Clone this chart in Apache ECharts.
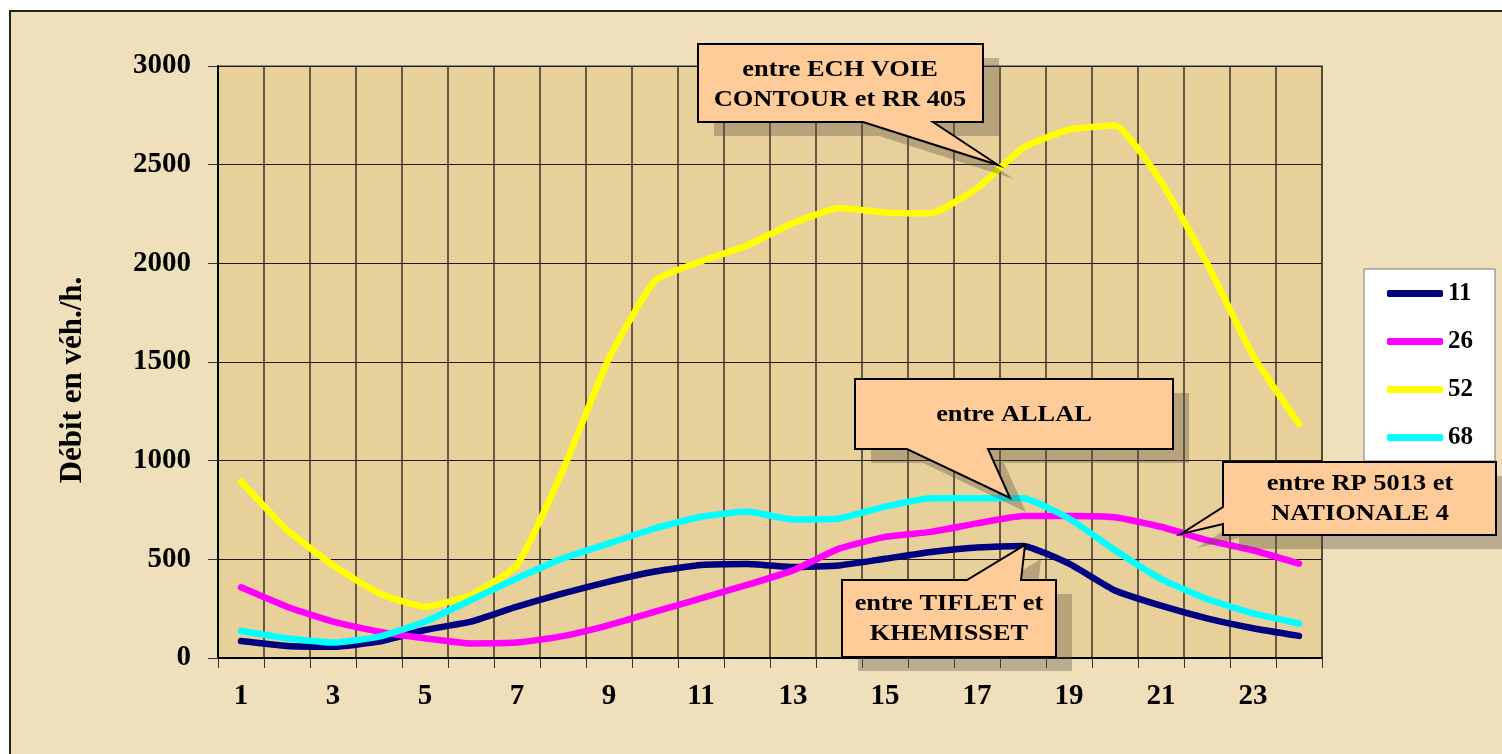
<!DOCTYPE html>
<html>
<head>
<meta charset="utf-8">
<script src="https://cdn.jsdelivr.net/npm/echarts@6/dist/echarts.min.js"></script>
<style>
  html, body { margin: 0; padding: 0; background: #ffffff; }
  #frame { position: absolute; left: 9px; top: 10px; width: 1500px; height: 750px;
           background: #efdfba; border-left: 2px solid #222; border-top: 2px solid #222; }
  #main { position: absolute; left: 0; top: 0; width: 1502px; height: 754px; }
</style>
</head>
<body>
<div id="frame"></div>
<div id="main"></div>
<script>
// heures de la journée
const hours = ['1','2','3','4','5','6','7','8','9','10','11','12','13','14','15','16','17','18','19','20','21','22','23','24'];
const yTicks = [0, 500, 1000, 1500, 2000, 2500, 3000];

// débits par poste de comptage (véh./h.)
const poste11 = [86, 61, 57, 83, 142, 184, 260, 328, 387, 438, 471, 476, 461, 469, 503, 537, 560, 568, 478, 342, 265, 201, 151, 112];
const poste26 = [358, 260, 184, 133, 100, 74, 78, 111, 167, 235, 302, 370, 444, 554, 614, 639, 682, 719, 719, 713, 665, 597, 546, 478];
const poste52 = [894, 649, 471, 328, 260, 320, 471, 953, 1519, 1912, 2010, 2090, 2203, 2280, 2258, 2254, 2381, 2585, 2678, 2698, 2415, 2000, 1534, 1186];
const poste68 = [137, 100, 78, 108, 184, 294, 404, 505, 581, 657, 716, 742, 702, 707, 767, 810, 810, 810, 707, 546, 401, 299, 226, 175];

const names = ['11', '26', '52', '68'];
const colors = ['#000080', '#ff00ff', '#ffff00', '#00ffff'];
const values = [poste11, poste26, poste52, poste68];

const serif = '"Liberation Serif", "Times New Roman", serif';

// bulle de commentaire : ombre + polygone + texte
function callout(points, lines, cx, cy) {
  const shadow = points.map(p => [p[0] + 16, p[1] + 14]);
  const els = [
    { type: 'polygon', shape: { points: shadow }, style: { fill: 'rgba(90,80,70,0.35)' }, z: 10 },
    { type: 'polygon', shape: { points: points }, style: { fill: '#ffcc99', stroke: '#000', lineWidth: 2 }, z: 11 }
  ];
  lines.forEach((t, i) => {
    els.push({
      type: 'text', x: cx, y: cy + (i - (lines.length - 1) / 2) * 30, scaleX: 1.1, z: 12,
      style: { text: t, font: 'bold 24px ' + serif, fill: '#000', textAlign: 'center', textVerticalAlign: 'middle' }
    });
  });
  return els;
}

const graphics = [].concat(
  callout([[698, 44], [983, 44], [983, 122], [933, 122], [998, 165], [863, 122], [698, 122]],
    ['entre ECH VOIE', 'CONTOUR et RR 405'], 840, 85),
  callout([[855, 379], [1173, 379], [1173, 449], [988, 449], [1010, 498], [907, 449], [855, 449]],
    ['entre ALLAL'], 1014, 415),
  callout([[1223, 462], [1496, 462], [1496, 535], [1223, 535], [1223, 524], [1181, 534], [1223, 507]],
    ['entre RP 5013 et', 'NATIONALE 4'], 1360, 499),
  callout([[842, 580], [967, 580], [1025, 545], [1021, 580], [1056, 580], [1056, 657], [842, 657]],
    ['entre TIFLET et', 'KHEMISSET'], 949, 619)
);

const chart = echarts.init(document.getElementById('main'));
chart.setOption({
  backgroundColor: 'transparent',
  animation: false,
  grid: {
    left: 218, top: 66, width: 1104, height: 592,
    show: true, backgroundColor: '#e8d09a', borderColor: '#8a8a8a', borderWidth: 2
  },
  legend: {
    data: names, orient: 'vertical', left: 1364, top: 269,
    backgroundColor: '#ffffff', borderColor: '#777', borderWidth: 1,
    padding: [12, 22, 11, 23], itemGap: 23, itemWidth: 56, itemHeight: 7,
    icon: 'roundRect',
    textStyle: { fontFamily: serif, fontWeight: 'bold', fontSize: 25, color: '#000', lineHeight: 24 }
  },
  xAxis: {
    type: 'category', data: hours, boundaryGap: true,
    axisLine: { lineStyle: { color: '#000', width: 2 } },
    axisTick: { show: true, interval: 0, length: 10, lineStyle: { color: '#333' } },
    axisLabel: { interval: 1, margin: 24, fontFamily: serif, fontWeight: 'bold', fontSize: 29, color: '#000' },
    splitLine: { show: true, interval: 0, lineStyle: { color: '#3a3226', width: 1.5 } }
  },
  yAxis: {
    type: 'value', min: yTicks[0], max: yTicks[yTicks.length - 1], interval: 500,
    name: 'Débit en véh./h.', nameLocation: 'middle', nameGap: 130, nameRotate: 90,
    nameTextStyle: { fontFamily: serif, fontWeight: 'bold', fontSize: 31, color: '#000', padding: [0, 36, 0, 0] },
    axisLine: { show: true, lineStyle: { color: '#000', width: 2 } },
    axisTick: { show: true, length: 10, lineStyle: { color: '#333' } },
    axisLabel: { margin: 27, fontFamily: serif, fontWeight: 'bold', fontSize: 29, color: '#000',
                 formatter: v => String(v) },
    splitLine: { show: true, lineStyle: { color: '#1e1a14', width: 1.2 } }
  },
  series: names.map((n, i) => ({
    name: n, type: 'line', data: values[i],
    symbol: 'none', smooth: 0.15,
    itemStyle: { color: colors[i] },
    lineStyle: { color: colors[i], width: 6.5, cap: 'round', join: 'round' }
  })),
  graphic: graphics
});
</script>
</body>
</html>
